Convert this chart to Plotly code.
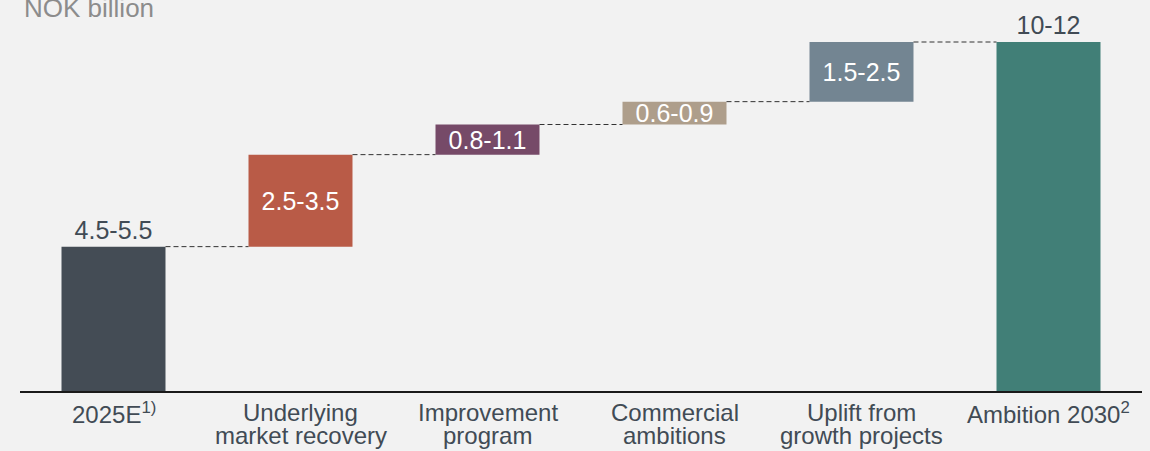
import plotly.graph_objects as go

# Bridge from 2025E to the 2030 ambition (NOK billion)
categories = ["2025E", "Underlying market recovery", "Improvement program",
              "Commercial ambitions", "Uplift from growth projects", "Ambition 2030"]
values = [4.55, 2.9, 0.95, 0.72, 1.88, 11.0]
measures = ["absolute", "relative", "relative", "relative", "relative", "total"]
range_low = ["4.5", "2.5", "0.8", "0.6", "1.5", "10"]
range_high = ["5.5", "3.5", "1.1", "0.9", "2.5", "12"]
label_line1 = ["2025E<sup>1)</sup>", "Underlying", "Improvement", "Commercial",
               "Uplift from", "Ambition 2030<sup>2</sup>"]
label_line2 = ["", "market recovery", "program", "ambitions", "growth projects", ""]

colors = ["#444c55", "#b95b47", "#764a68", "#ae9e8b", "#738592", "#417f77"]
FONT = "Liberation Sans, Arial, sans-serif"
DARK = "#414b55"
BG = "#f2f2f2"
BAR_W = 0.556

# floating bar bases from the running total
bases, tops = [], []
running = 0.0
for v, m in zip(values, measures):
    if m == "relative":
        bases.append(running)
        running += v
    else:
        bases.append(0.0)
        running = v
    tops.append(running)

texts = [f"{lo}-{hi}" for lo, hi in zip(range_low, range_high)]
positions = ["outside" if m != "relative" else "inside" for m in measures]

fig = go.Figure(go.Bar(
    x=categories, y=values, base=bases, width=BAR_W,
    marker=dict(color=colors, line=dict(width=0)),
    text=texts, textposition=positions, textangle=0,
    constraintext="none", insidetextanchor="middle",
    insidetextfont=dict(color="white", size=25, family=FONT),
    outsidetextfont=dict(color=DARK, size=25, family=FONT),
    cliponaxis=False, hoverinfo="skip",
))

# dashed connectors between neighbouring bars
for i in range(len(categories) - 1):
    fig.add_shape(type="line", xref="x", yref="y",
                  x0=i + BAR_W / 2, x1=i + 1 - BAR_W / 2,
                  y0=tops[i], y1=tops[i],
                  line=dict(color="#333333", width=1, dash="5px,3px"))

# two-line category labels under the axis
annotations = []
for cat, l1, l2 in zip(categories, label_line1, label_line2):
    annotations.append(dict(x=cat, xref="x", y=0, yref="paper", yanchor="middle",
                            yshift=-21.5, text=l1, showarrow=False,
                            font=dict(size=24, color=DARK, family=FONT)))
    if l2:
        annotations.append(dict(x=cat, xref="x", y=0, yref="paper", yanchor="middle",
                                yshift=-44.5, text=l2, showarrow=False,
                                font=dict(size=24, color=DARK, family=FONT)))

annotations.append(dict(x=0, xref="paper", xanchor="left", xshift=2,
                        y=1, yref="paper", yanchor="middle", yshift=-8.2,
                        text="NOK billion", showarrow=False,
                        font=dict(size=26, color="#8c8c8c", family=FONT)))

fig.update_layout(
    width=1150, height=451, autosize=False,
    margin=dict(l=20, r=8, t=0, b=60, pad=0),
    paper_bgcolor=BG, plot_bgcolor=BG,
    showlegend=False, annotations=annotations,
    font=dict(family=FONT, color=DARK),
    xaxis=dict(range=[-0.5, 5.5], showticklabels=False, showline=True,
               linecolor="#1a1a1a", linewidth=2, showgrid=False,
               zeroline=False, ticks="", fixedrange=True),
    yaxis=dict(range=[0, 12.324], visible=False, fixedrange=True),
)

fig.write_html("out.html", config={"displayModeBar": False},
               post_script="document.body.style.margin='0';")
